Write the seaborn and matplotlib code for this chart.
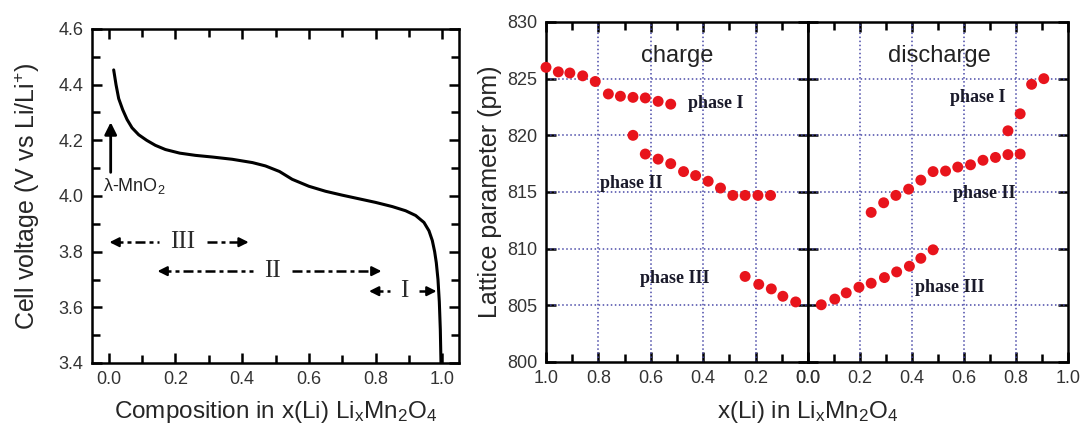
import seaborn as sns
import matplotlib.pyplot as plt
import pandas as pd
import numpy as np
from matplotlib.ticker import MultipleLocator, FormatStrFormatter

# left panel: cell voltage vs composition
comp_x = [0.015, 0.022, 0.030, 0.042, 0.055, 0.07, 0.09, 0.114, 0.14, 0.17, 0.213, 0.26, 0.311,
          0.37, 0.431, 0.47, 0.512, 0.55, 0.60, 0.65, 0.70, 0.75, 0.80, 0.85, 0.89, 0.92,
          0.945, 0.96, 0.97, 0.977, 0.982, 0.987, 0.991, 0.994, 0.996]
cell_v = [4.453, 4.40, 4.35, 4.31, 4.275, 4.245, 4.22, 4.20, 4.182, 4.167, 4.154, 4.146, 4.14,
          4.132, 4.12, 4.108, 4.088, 4.06, 4.035, 4.017, 4.003, 3.99, 3.977, 3.962, 3.947, 3.93,
          3.905, 3.875, 3.84, 3.80, 3.76, 3.70, 3.62, 3.52, 3.40]

# right panel: lattice parameter, charge side
chg_I_x = [1.0, 0.953, 0.909, 0.860, 0.812, 0.762, 0.716, 0.668, 0.621, 0.572, 0.524]
chg_I_y = [826.0, 825.6, 825.5, 825.25, 824.75, 823.65, 823.45, 823.35, 823.3, 823.0, 822.75]
chg_II_x = [0.668, 0.621, 0.572, 0.524, 0.475, 0.429, 0.381, 0.334, 0.287, 0.240, 0.191, 0.143]
chg_II_y = [820.0, 818.35, 817.9, 817.5, 816.8, 816.45, 815.95, 815.35, 814.7, 814.7, 814.7, 814.7]
chg_III_x = [0.240, 0.188, 0.140, 0.096, 0.047]
chg_III_y = [807.55, 806.85, 806.45, 805.8, 805.3]

# discharge side
dis_III_x = [0.051, 0.103, 0.147, 0.196, 0.243, 0.294, 0.341, 0.390, 0.434, 0.481]
dis_III_y = [805.05, 805.55, 806.1, 806.6, 806.95, 807.45, 807.95, 808.45, 809.15, 809.9]
dis_II_x = [0.243, 0.291, 0.338, 0.387, 0.434, 0.481, 0.529, 0.576, 0.625, 0.673, 0.721, 0.769, 0.816]
dis_II_y = [813.2, 814.05, 814.7, 815.25, 816.05, 816.8, 816.85, 817.2, 817.4, 817.8, 818.05, 818.3, 818.35]
dis_I_x = [0.769, 0.816, 0.860, 0.907]
dis_I_y = [820.4, 821.9, 824.5, 825.0]

sns.set_style('ticks')
plt.rcParams['font.family'] = ['Liberation Sans', 'DejaVu Sans']
plt.rcParams['mathtext.default'] = 'regular'

red = '#e8141c'
grid_c = '#4a4aa8'
tick_c = '#333333'

fig = plt.figure(figsize=(10.8, 4.32), dpi=100)
ax1 = fig.add_axes([92/1080, 1-363/432, 367/1080, 334/432])
ax2 = fig.add_axes([546/1080, 1-362/432, 262/1080, 340/432])
ax3 = fig.add_axes([808/1080, 1-362/432, 260/1080, 340/432])

# ---- left panel
sns.lineplot(x=comp_x, y=cell_v, color='black', lw=2.2, ax=ax1)
ax1.set_xlim(-0.05, 1.05)
ax1.set_ylim(3.4, 4.6)
ax1.xaxis.set_major_locator(MultipleLocator(0.2))
ax1.xaxis.set_minor_locator(MultipleLocator(0.1))
ax1.yaxis.set_major_locator(MultipleLocator(0.2))
ax1.yaxis.set_minor_locator(MultipleLocator(0.1))
ax1.xaxis.set_major_formatter(FormatStrFormatter('%.1f'))
ax1.yaxis.set_major_formatter(FormatStrFormatter('%.1f'))
ax1.set_xlabel('Composition in x(Li) Li$_x$Mn$_2$O$_4$', fontsize=17.5, labelpad=8)
ax1.set_ylabel('Cell voltage (V vs Li/Li$^{+}$)', fontsize=18, labelpad=12)

ax1.annotate('', xy=(0.006, 4.275), xytext=(0.006, 4.075),
             arrowprops=dict(arrowstyle='-|>', color='black', lw=2, mutation_scale=18))
ax1.text(0.078, 4.035, 'λ-MnO$_2$', fontsize=13, ha='center', va='center', color='#222222')

# phase ranges: (left tip, right tip, label x, y, label)
ranges = [(-0.006, 0.428, 0.222, 3.834, 'III'),
          (0.138, 0.826, 0.491, 3.73, 'II'),
          (0.772, 0.991, 0.886, 3.658, 'I')]
dash = (0, (4, 1.6, 1.6, 1.6))
for x0, x1, xm, y, lab in ranges:
    gap = 0.03 + 0.014 * len(lab)
    ax1.plot([x0 + 0.02, xm - gap], [y, y], color='black', lw=1.8, ls=dash)
    ax1.plot([xm + gap, x1 - 0.02], [y, y], color='black', lw=1.8, ls=dash)
    ax1.annotate('', xy=(x0, y), xytext=(x0 + 0.035, y),
                 arrowprops=dict(arrowstyle='-|>', color='black', lw=1.6, mutation_scale=14))
    ax1.annotate('', xy=(x1, y), xytext=(x1 - 0.035, y),
                 arrowprops=dict(arrowstyle='-|>', color='black', lw=1.6, mutation_scale=14))
    ax1.text(xm, y, lab, fontsize=18, ha='center', va='center',
             family=['Liberation Serif'], color='#2a2a2a')

# ---- right panels
for ax, xs, ys in [(ax2, [chg_I_x, chg_II_x, chg_III_x], [chg_I_y, chg_II_y, chg_III_y]),
                   (ax3, [dis_I_x, dis_II_x, dis_III_x], [dis_I_y, dis_II_y, dis_III_y])]:
    for xv, yv in zip(xs, ys):
        sns.scatterplot(x=xv, y=yv, color=red, s=62, edgecolor='none', ax=ax, zorder=5, clip_on=False)
    ax.set_ylim(800, 830)
    ax.yaxis.set_major_locator(MultipleLocator(5))
    ax.xaxis.set_major_locator(MultipleLocator(0.2))
    ax.xaxis.set_minor_locator(MultipleLocator(0.1))
    ax.xaxis.set_major_formatter(FormatStrFormatter('%.1f'))
    for gx in [0.2, 0.4, 0.6, 0.8]:
        ax.axvline(gx, color=grid_c, lw=1.1, ls=':', zorder=1)
    for gy in [805, 810, 815, 820, 825]:
        ax.axhline(gy, color=grid_c, lw=1.1, ls=':', zorder=1)

ax2.set_xlim(1.0, 0.0)
ax3.set_xlim(0.0, 1.0)
ax3.set_yticklabels([])
ax2.set_ylabel('Lattice parameter (pm)', fontsize=18, labelpad=4)

ax2.text(0.5, 827.0, 'charge', fontsize=17, ha='center', va='center', color='#222222')
ax3.text(0.507, 827.0, 'discharge', fontsize=17, ha='center', va='center', color='#222222')

serif_b = dict(family=['Liberation Serif'], fontweight='bold', fontsize=13,
               ha='center', va='center', color='#1a1a2a')
ax2.text(0.353, 822.85, 'phase I', **serif_b)
ax2.text(0.676, 815.75, 'phase II', **serif_b)
ax2.text(0.507, 807.35, 'phase III', **serif_b)
ax3.text(0.654, 823.3, 'phase I', **serif_b)
ax3.text(0.676, 814.9, 'phase II', **serif_b)
ax3.text(0.544, 806.6, 'phase III', **serif_b)

fig.text(808/1080, 1-412/432, 'x(Li) in Li$_x$Mn$_2$O$_4$', fontsize=17.5, ha='center', va='center')

for ax in [ax1, ax2, ax3]:
    for sp in ax.spines.values():
        sp.set_visible(True)
        sp.set_linewidth(1.8)
        sp.set_color('black')
    ax.tick_params(which='major', direction='in', top=True, right=True, length=7, width=1.8,
                   color='black', labelsize=13, labelcolor=tick_c, pad=6)
    ax.tick_params(which='minor', direction='in', top=True, right=True, length=6, width=1.8,
                   color='black')

fig.savefig('out.png', dpi=100)
